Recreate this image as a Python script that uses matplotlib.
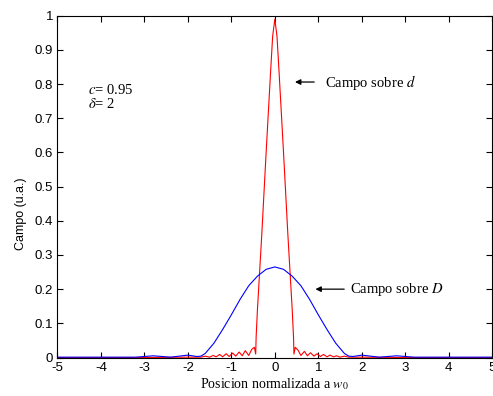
import matplotlib
matplotlib.use("Agg")
import matplotlib.pyplot as plt

plt.rcParams["font.family"] = ["Liberation Sans", "DejaVu Sans"]
plt.rcParams["mathtext.fontset"] = "stix"
plt.rcParams["axes.unicode_minus"] = False

# Campo sobre d (red, narrow peak)
red_x = [-5.0, -3.0, -2.0, -1.7, -1.6, -1.5, -1.42, -1.35, -1.27, -1.2, -1.12, -1.05,
         -0.97, -0.9, -0.82, -0.75, -0.68, -0.6, -0.53, -0.47, -0.44, -0.43, -0.4,
         -0.3, -0.2, -0.1, -0.05, 0.0, 0.05, 0.1, 0.2, 0.3, 0.4, 0.43, 0.44, 0.47,
         0.53, 0.6, 0.68, 0.75, 0.82, 0.9, 0.97, 1.05, 1.12, 1.2, 1.27, 1.35, 1.42,
         1.5, 1.6, 1.7, 2.0, 3.0, 5.0]
red_y = [0.0, 0.0, 0.001, 0.001, 0.004, 0.001, 0.006, 0.002, 0.009, 0.002, 0.011, 0.003,
         0.013, 0.004, 0.016, 0.005, 0.020, 0.006, 0.024, 0.030, 0.010, 0.06, 0.14,
         0.36, 0.60, 0.83, 0.94, 0.99, 0.94, 0.83, 0.60, 0.36, 0.14, 0.06, 0.010, 0.030,
         0.022, 0.006, 0.018, 0.005, 0.014, 0.004, 0.011, 0.003, 0.009, 0.002, 0.007,
         0.002, 0.005, 0.001, 0.004, 0.001, 0.001, 0.0, 0.0]

# Campo sobre D (blue, wide lobe)
blue_x = [-5.0, -3.2, -3.0, -2.8, -2.6, -2.4, -2.2, -2.0, -1.8, -1.7, -1.6, -1.4,
          -1.2, -1.0, -0.8, -0.6, -0.4, -0.2, 0.0, 0.2, 0.4, 0.6, 0.8, 1.0, 1.2,
          1.4, 1.6, 1.7, 1.8, 2.0, 2.2, 2.4, 2.6, 2.8, 3.0, 3.2, 5.0]
blue_y = [0.001, 0.001, 0.003, 0.005, 0.003, 0.001, 0.004, 0.007, 0.003, 0.004,
          0.012, 0.042, 0.082, 0.125, 0.170, 0.210, 0.238, 0.258, 0.265, 0.258,
          0.238, 0.210, 0.170, 0.125, 0.082, 0.042, 0.012, 0.004, 0.003, 0.007,
          0.004, 0.001, 0.003, 0.005, 0.003, 0.001, 0.001]

xticks = [-5, -4, -3, -2, -1, 0, 1, 2, 3, 4, 5]
yticks = [0, 0.1, 0.2, 0.3, 0.4, 0.5, 0.6, 0.7, 0.8, 0.9, 1]
ytick_labels = ["0", "0.1", "0.2", "0.3", "0.4", "0.5", "0.6", "0.7", "0.8", "0.9", "1"]

fig = plt.figure(figsize=(4.93, 3.96), dpi=100)
ax = fig.add_axes([0.1166, 0.0972, 0.8817, 0.8631])

ax.plot(red_x, red_y, color="red", lw=0.8)
ax.plot(blue_x, blue_y, color="blue", lw=0.8)

ax.set_xlim(-5, 5)
ax.set_ylim(0, 1)
ax.set_xticks(xticks)
ax.set_yticks(yticks)
ax.set_yticklabels(ytick_labels)
ax.tick_params(direction="in", length=4, width=0.8, top=True, right=True,
               labelsize=9.5, pad=3)
for s in ax.spines.values():
    s.set_linewidth(0.8)

serif = ["Liberation Serif", "DejaVu Serif"]
ax.set_xlabel("Posicion normalizada a $w_0$", family=serif, fontsize=10, labelpad=2)
ax.set_ylabel("Campo (u.a.)", fontsize=9, labelpad=2)
ax.yaxis.set_label_coords(-0.07, 0.42)

ax.text(-4.30, 0.783, "$c$= 0.95", family=serif, fontsize=10.5, va="center")
ax.text(-4.30, 0.741, r"$\delta$= 2", family=serif, fontsize=10.5, va="center")

arrow = dict(arrowstyle="-|>", color="black", lw=0.9, mutation_scale=8)
ax.annotate("", xy=(0.40, 0.806), xytext=(0.97, 0.806), arrowprops=arrow)
ax.text(1.16, 0.806, "Campo sobre $d$", family=serif, fontsize=10.5, va="center")
ax.annotate("", xy=(0.87, 0.200), xytext=(1.66, 0.200), arrowprops=arrow)
ax.text(1.73, 0.200, "Campo sobre $D$", family=serif, fontsize=10.5, va="center")

fig.savefig("out.png", dpi=100)
